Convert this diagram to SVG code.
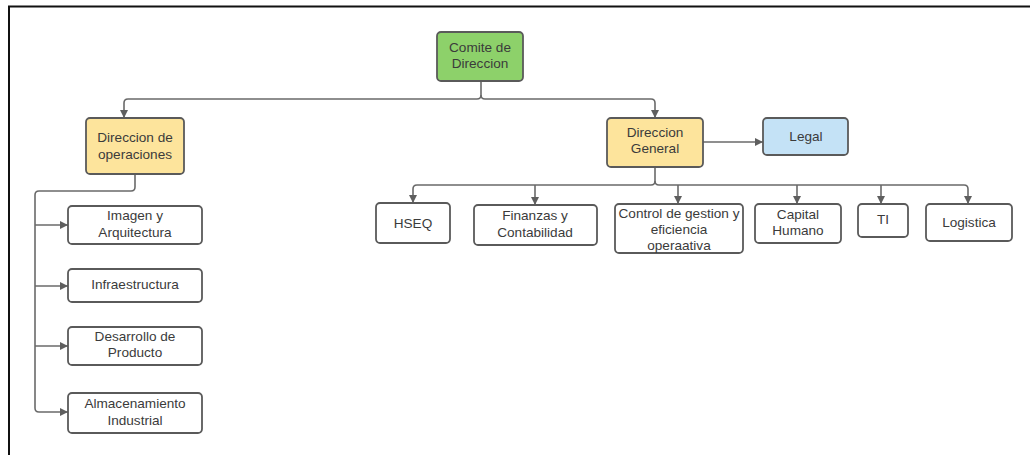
<svg xmlns="http://www.w3.org/2000/svg" width="1030" height="455" viewBox="0 0 1030 455">
  <defs>
    <marker id="arrow" viewBox="0 0 10 10" refX="10" refY="5" markerWidth="9" markerHeight="8" markerUnits="userSpaceOnUse" orient="auto">
      <path d="M0,0 L10,5 L0,10 z" fill="#5f5f5f"/>
    </marker>
  </defs>
  <style>
    .box { stroke: #5a5a5a; stroke-width: 1.8; }
    .white { fill: #ffffff; }
    .green { fill: #8dd16a; }
    .yellow { fill: #fde49c; }
    .blue { fill: #c4e2f6; }
    .lbl { font-family: "Liberation Sans", Arial, sans-serif; font-size: 13.6px; fill: #3b3b3b; text-anchor: middle; }
    .edge { fill: none; stroke: #6a6a6a; stroke-width: 1.6; stroke-linejoin: round; }
  </style>
  <rect x="0" y="0" width="1030" height="455" fill="#ffffff"/>
  <!-- outer frame: top and left edges -->
  <path d="M9,455 L9,6.5 L1030,6.5" fill="none" stroke="#111111" stroke-width="2"/>

  <g id="connectors">
    <!-- Comite -> two directorates -->
    <path class="edge" d="M481,81 L481,95 Q481,99 477,99 L128,99 Q124,99 124,103 L124,118" marker-end="url(#arrow)"/>
    <path class="edge" d="M481,95 Q481,99 485,99 L651,99 Q655,99 655,103 L655,118" marker-end="url(#arrow)"/>
    <!-- Direccion General -> Legal -->
    <path class="edge" d="M703,142 L763,142" marker-end="url(#arrow)"/>
    <!-- Direccion General -> departments -->
    <path class="edge" d="M655,167 L655,181 Q655,185 651,185 L417,185 Q413,185 413,189 L413,203" marker-end="url(#arrow)"/>
    <path class="edge" d="M535,185 L535,205" marker-end="url(#arrow)"/>
    <path class="edge" d="M678,185 L678,204" marker-end="url(#arrow)"/>
    <path class="edge" d="M655,181 Q655,185 659,185 L964,185 Q968,185 968,189 L968,204" marker-end="url(#arrow)"/>
    <path class="edge" d="M797,185 L797,204" marker-end="url(#arrow)"/>
    <path class="edge" d="M881,185 L881,204" marker-end="url(#arrow)"/>
    <!-- Direccion de operaciones -> areas -->
    <path class="edge" d="M135,174 L135,187 Q135,191 131,191 L39,191 Q35,191 35,195 L35,408 Q35,412 39,412 L68,412" marker-end="url(#arrow)"/>
    <path class="edge" d="M35,225 L68,225" marker-end="url(#arrow)"/>
    <path class="edge" d="M35,286 L68,286" marker-end="url(#arrow)"/>
    <path class="edge" d="M35,346 L68,346" marker-end="url(#arrow)"/>
  </g>

  <g id="comite">
    <rect class="box green" x="437" y="32" width="86" height="49" rx="4"/>
    <text class="lbl" x="480" y="52">Comite de</text>
    <text class="lbl" x="480" y="68">Direccion</text>
  </g>
  <g id="dir-operaciones">
    <rect class="box yellow" x="86" y="118" width="98" height="56" rx="4"/>
    <text class="lbl" x="135" y="142">Direccion de</text>
    <text class="lbl" x="135" y="159">operaciones</text>
  </g>
  <g id="dir-general">
    <rect class="box yellow" x="607" y="118" width="96" height="49" rx="4"/>
    <text class="lbl" x="655" y="137">Direccion</text>
    <text class="lbl" x="655" y="153">General</text>
  </g>
  <g id="legal">
    <rect class="box blue" x="763" y="118" width="85" height="37" rx="4"/>
    <text class="lbl" x="806" y="141">Legal</text>
  </g>

  <g id="hseq">
    <rect class="box white" x="376" y="203" width="74" height="40" rx="4"/>
    <text class="lbl" x="413" y="228">HSEQ</text>
  </g>
  <g id="finanzas">
    <rect class="box white" x="474" y="205" width="123" height="40" rx="4"/>
    <text class="lbl" x="535" y="220">Finanzas y</text>
    <text class="lbl" x="535" y="237">Contabilidad</text>
  </g>
  <g id="control">
    <rect class="box white" x="615" y="204" width="128" height="49" rx="4"/>
    <text class="lbl" x="679" y="218">Control de gestion y</text>
    <text class="lbl" x="679" y="234">eficiencia</text>
    <text class="lbl" x="679" y="250">operaativa</text>
  </g>
  <g id="capital">
    <rect class="box white" x="755" y="204" width="86" height="39" rx="4"/>
    <text class="lbl" x="798" y="219">Capital</text>
    <text class="lbl" x="798" y="235">Humano</text>
  </g>
  <g id="ti">
    <rect class="box white" x="858" y="204" width="50" height="33" rx="4"/>
    <text class="lbl" x="883" y="224">TI</text>
  </g>
  <g id="logistica">
    <rect class="box white" x="926" y="204" width="86" height="37" rx="4"/>
    <text class="lbl" x="969" y="227">Logistica</text>
  </g>

  <g id="imagen">
    <rect class="box white" x="68" y="206" width="134" height="38" rx="4"/>
    <text class="lbl" x="135" y="220">Imagen y</text>
    <text class="lbl" x="135" y="237">Arquitectura</text>
  </g>
  <g id="infraestructura">
    <rect class="box white" x="68" y="269" width="134" height="33" rx="4"/>
    <text class="lbl" x="135" y="289">Infraestructura</text>
  </g>
  <g id="desarrollo">
    <rect class="box white" x="68" y="327" width="134" height="38" rx="4"/>
    <text class="lbl" x="135" y="341">Desarrollo de</text>
    <text class="lbl" x="135" y="357">Producto</text>
  </g>
  <g id="almacenamiento">
    <rect class="box white" x="68" y="393" width="134" height="40" rx="4"/>
    <text class="lbl" x="135" y="408">Almacenamiento</text>
    <text class="lbl" x="135" y="425">Industrial</text>
  </g>
</svg>
